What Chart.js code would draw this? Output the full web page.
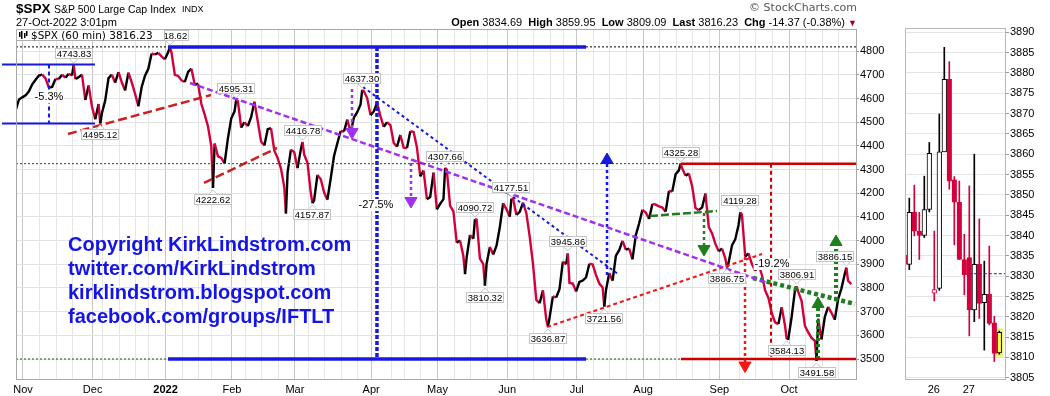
<!DOCTYPE html>
<html>
<head>
<meta charset="utf-8">
<script src="https://cdn.jsdelivr.net/npm/chart.js@4.4.1/dist/chart.umd.min.js"></script>
<style>
body { margin:0; background:#fff; width:1050px; height:396px; overflow:hidden; position:relative; font-family:"Liberation Sans", Arial, sans-serif; }
canvas { position:absolute; top:0; }
#main { left:0; }
#side { left:900px; }
.t { position:absolute; white-space:nowrap; color:#000; }
.copy { position:absolute; left:68px; top:232px; font:bold 20px/24px "Liberation Sans", Arial, sans-serif; color:#1414e6; }
</style>
</head>
<body>
<canvas id="main" width="900" height="396"></canvas>
<canvas id="side" width="150" height="396"></canvas>

<div class="t" style="left:16px;top:2px;font:bold 13.5px/13.5px 'Liberation Sans'">$SPX</div>
<div class="t" style="left:54px;top:3.8px;font:10.5px/10.5px 'Liberation Sans'">S&amp;P 500 Large Cap Index</div>
<div class="t" style="left:182px;top:5px;font:9px/9px 'Liberation Sans'">INDX</div>
<div class="t" style="left:16px;top:16.7px;font:11px/11px 'Liberation Sans'">27-Oct-2022 3:01pm</div>
<div class="t" style="right:193px;top:2.4px;font:11px/11px 'DejaVu Sans';color:#555">© StockCharts.com</div>
<div class="t" style="right:193px;top:16.7px;font:11px/11px 'Liberation Sans'"><b>Open</b> 3834.69&nbsp; <b>High</b> 3859.95&nbsp; <b>Low</b> 3809.09&nbsp; <b>Last</b> 3816.23&nbsp; <b>Chg</b> -14.37 (-0.38%) <span style="color:#a0002a;font-size:9px">▼</span></div>

<div class="copy">Copyright KirkLindstrom.com<br>twitter.com/KirkLindstrom<br>kirklindstrom.blogspot.com<br>facebook.com/groups/IFTLT</div>

<script>
// trading-day index: 0 = 1-Nov-2021, 249 = 27-Oct-2022
const firstDay = -3;
const dailyClose = [
  4551.68, 4596.42, 4605.38,
  // Nov
  4613.67, 4630.65, 4660.57, 4680.06, 4697.53, 4701.70, 4685.25, 4646.71, 4649.27, 4682.85,
  4682.80, 4700.90, 4688.67, 4704.54, 4697.96, 4682.94, 4690.70, 4701.46, 4594.62, 4655.27, 4567.00,
  // Dec
  4513.04, 4577.10, 4538.43, 4591.67, 4686.75, 4701.21, 4667.45, 4712.02, 4668.97, 4634.09, 4709.85,
  4668.67, 4620.64, 4568.02, 4649.23, 4696.56, 4725.79, 4791.19, 4786.35, 4793.06, 4778.73, 4766.18,
  // Jan
  4796.56, 4793.54, 4700.58, 4696.05, 4677.03, 4670.29, 4713.07, 4726.35, 4659.03, 4662.85,
  4577.11, 4532.76, 4482.73, 4397.94, 4410.13, 4356.45, 4349.93, 4326.51, 4431.85, 4515.55,
  // Feb
  4546.54, 4589.38, 4477.44, 4500.53, 4483.87, 4521.54, 4587.18, 4504.08, 4418.64, 4401.67,
  4471.07, 4475.01, 4380.26, 4348.87, 4304.76, 4225.50, 4288.70, 4384.65, 4373.94,
  // Mar
  4306.26, 4386.54, 4363.49, 4328.87, 4201.09, 4170.70, 4277.88, 4259.52, 4204.31, 4173.11, 4262.45, 4357.86,
  4411.67, 4463.12, 4461.18, 4511.61, 4456.24, 4520.16, 4543.06, 4575.52, 4631.60, 4602.45, 4530.41,
  // Apr
  4545.86, 4582.64, 4525.12, 4481.15, 4500.21, 4488.28, 4412.53, 4397.45, 4446.59, 4392.59,
  4391.69, 4462.21, 4459.45, 4393.66, 4271.78, 4296.12, 4175.20, 4183.96, 4287.50, 4131.93,
  // May
  4155.38, 4175.48, 4300.17, 4146.87, 4123.34, 3991.24, 4001.05, 3935.18, 3930.08, 4023.89, 4008.01,
  4088.85, 3923.68, 3900.79, 3901.36, 3973.75, 3941.48, 3978.73, 4057.84, 4158.24, 4132.15,
  // Jun
  4101.23, 4176.82, 4108.54, 4121.43, 4160.68, 4115.77, 4017.82, 3900.86, 3749.63, 3735.48, 3789.99,
  3666.77, 3674.84, 3764.79, 3759.89, 3795.73, 3911.74, 3900.11, 3821.55, 3818.83, 3785.38,
  // Jul
  3825.33, 3831.39, 3845.08, 3902.62, 3899.38, 3854.43, 3818.80, 3801.78, 3790.38, 3863.16,
  3830.85, 3936.69, 3959.90, 3998.95, 3961.63, 3966.84, 3921.05, 4023.61, 4072.43, 4130.29,
  // Aug
  4118.63, 4091.19, 4155.17, 4151.94, 4145.19, 4140.06, 4122.47, 4210.24, 4207.27, 4280.15, 4297.14, 4305.20,
  4274.04, 4283.74, 4228.48, 4137.99, 4128.73, 4140.77, 4199.12, 4057.66, 4030.61, 3986.16, 3955.00,
  // Sep
  3966.85, 3924.26, 3908.19, 3979.87, 4006.18, 4067.36, 4110.41, 3932.69, 3946.01, 3901.35, 3873.33,
  3899.89, 3855.93, 3789.93, 3757.99, 3693.23, 3655.04, 3647.29, 3719.04, 3640.47, 3585.62,
  // Oct
  3678.43, 3790.93, 3783.28, 3744.52, 3639.66, 3612.39, 3588.84, 3577.03, 3669.91, 3583.07,
  3677.95, 3719.98, 3695.16, 3665.78, 3752.75, 3797.34, 3859.11, 3830.60, 3816.23
];

// intraday turning points
const swingDays = [15, 23, 44, 57, 64, 79, 84, 87, 102, 127, 133, 136, 139, 147, 158, 164, 175, 198, 212, 216, 230, 233, 239, 248];
const swingValues = [4743.83, 4495.12, 4818.62, 4222.62, 4595.31, 4114.65, 4416.78, 4157.87, 4637.30, 4307.66, 3858.87, 4090.72,
  3810.32, 4177.51, 3636.87, 3945.86, 3721.56, 4325.28, 3886.75, 4119.28, 3584.13, 3806.91, 3491.58, 3886.15];

// price tags
const tagDays = [15, 23, 44, 57, 64, 84, 87, 102, 127, 136, 139, 147, 158, 164, 175, 198, 212, 216, 230, 233, 239, 248];
const tagValues = [4743.83, 4495.12, 4818.62, 4222.62, 4595.31, 4416.78, 4157.87, 4637.30, 4307.66, 4090.72, 3810.32,
  4177.51, 3636.87, 3945.86, 3721.56, 4325.28, 3886.75, 4119.28, 3584.13, 3806.91, 3491.58, 3886.15];
const tagAbove = [1, 0, 1, 0, 1, 1, 0, 1, 1, 1, 0, 1, 0, 1, 0, 1, 0, 1, 0, 1, 0, 1];

const monthTickDays = [0, 21, 43, 63, 82, 105, 125, 146, 167, 187, 210, 231];
const monthTickLabels = ['Nov', 'Dec', '2022', 'Feb', 'Mar', 'Apr', 'May', 'Jun', 'Jul', 'Aug', 'Sep', 'Oct'];
const weekTickDays = [5, 10, 15, 19, 24, 29, 34, 38, 48, 53, 57, 62, 67, 72, 77, 81, 86, 91, 96, 101, 106, 111, 115, 120,
  130, 135, 140, 145, 149, 154, 159, 163, 168, 172, 177, 182, 192, 197, 202, 207, 212, 216, 221, 226, 236, 241, 246];
const priceTicks = [3500, 3600, 3700, 3800, 3900, 4000, 4100, 4200, 4300, 4400, 4500, 4600, 4700, 4800];

// drawn studies, in (trading day, price)
const highLevel = 4818.62;
const lowLevel = 3500;
const augLevel = 4325.28;
const blueSpan = [43.73, 169.78];
const redLevelStart = 198.43;
const novBand = [4743.83, 4495.12];
const novBandSpan = [-6.33, 21.71];
const novBandDay = 7.84;
const dropDay = 106.75;
const redTargetDay = 225.57;
const novRedTrend = [[13.57, 4450.6], [56.7, 4615.4]];
const janRedTrend = [[54.58, 4243.6], [76.6, 4391.5]];
const purpleTrend = [[50.36, 4666.1], [224.67, 3821.1]];
const blueTrend = [[102.53, 4649.2], [179.43, 3859.1]];
const redRiseTrend = [[158.02, 3635.2], [222.86, 3943.6]];
const greenNeck = [[189.08, 4104.2], [209.29, 4125.3]];
const greenTrend = [[220.14, 3842.2], [250.9, 3732.4]];

const arrowDays = [176.12, 99.22, 117.01, 205.37, 217.73, 239.75, 245.17];
const arrowFrom = [3854.9, 4640.7, 4328.1, 4116.8, 3930.9, 3500, 3749.3];
const arrowTo = [4328.1, 4467.5, 4180.2, 3981.6, 3478.9, 3719.7, 3969.0];
const arrowHead = [4340.8, 4459.1, 4167.5, 3964.7, 3472.5, 3732.4, 3994.3];
const arrowUp = [1, 0, 0, 0, 0, 1, 1];

const noteDays = [7.84, 106.45, 225.87];
const noteValues = [4606.9, 4150.6, 3901.4];
const noteTexts = ['-5.3%', '-27.5%', '-19.2%'];

// intraday 60-min candles, 26-27 Oct
const candleSlot = [0, 1, 2, 3, 4, 5, 6, 7, 8, 9, 10, 11, 12, 13, 14, 15, 16, 17, 18, 19];
const candleOpen = [3835.2, 3832.9, 3845.7, 3841.1, 3840.0, 3846.4, 3825.8, 3827.0, 3860.6, 3878.4,
  3853.7, 3848.2, 3834.1, 3834.6, 3821.7, 3832.9, 3823.5, 3825.5, 3818.5, 3811.1];
const candleHigh = [3835.6, 3849.2, 3852.4, 3845.7, 3854.6, 3862.9, 3841.1, 3869.9, 3886.3, 3882.8,
  3854.5, 3853.4, 3840.3, 3852.2, 3860.0, 3844.1, 3833.7, 3837.4, 3820.1, 3816.5];
const candleLow = [3832.5, 3831.6, 3839.9, 3834.1, 3839.5, 3845.8, 3823.9, 3826.5, 3860.6, 3851.4,
  3837.7, 3834.1, 3825.4, 3815.3, 3818.8, 3819.6, 3811.8, 3818.0, 3809.0, 3810.8];
const candleClose = [3832.9, 3845.7, 3841.1, 3840.0, 3846.4, 3860.2, 3826.7, 3860.6, 3878.4, 3853.4,
  3848.2, 3834.1, 3830.3, 3821.7, 3832.9, 3823.3, 3825.5, 3818.4, 3811.0, 3816.2];
const prevClose = 3830.6;
const sideDayTicks = [5.9, 12.9];
const sideDayLabels = ['26', '27'];
const sideTicks = [3805, 3810, 3815, 3820, 3825, 3830, 3835, 3840, 3845, 3850, 3855, 3860, 3865, 3870, 3875, 3880, 3885, 3890];

const RED = '#d2003c';
const BLUE = '#1818e0';
const PURPLE = '#a030f0';
const GREEN = '#1f7f1f';
const BRIGHTRED = '#f01818';
const LABELFONT = '"Liberation Sans", Arial, sans-serif';

const pricePoints = [];
dailyClose.forEach((c, i) => {
    const d = firstDay + i;
    const s = swingDays.indexOf(d);
    if (s >= 0) pricePoints.push({ x: d + 0.3, y: swingValues[s] });
    pricePoints.push({ x: d + 0.8, y: c });
});

function study(points, color, width, dash) {
    return {
        data: points.map(p => (p ? { x: p[0], y: p[1] } : { x: 0, y: null })),
        borderColor: color,
        borderWidth: width,
        borderDash: dash || [],
        pointRadius: 0,
        spanGaps: false,
        clip: false,
        order: 5
    };
}

const xMin = -2.1, xMax = 251.5;
const datasets = [
    {
        data: pricePoints,
        borderColor: '#000',
        borderWidth: 2.4,
        pointRadius: 0,
        segment: { borderColor: c => (c.p1.parsed.y < c.p0.parsed.y ? RED : '#000') },
        order: 20
    },
    study([[xMin, highLevel], [blueSpan[0], highLevel], null, [blueSpan[1], highLevel], [xMax, highLevel]], '#000', 1, [2, 2]),
    study([[xMin, lowLevel], [blueSpan[0], lowLevel], null, [blueSpan[1], lowLevel], [redLevelStart, lowLevel]], '#006400', 1, [2, 2]),
    study([[xMin, augLevel], [redLevelStart, augLevel]], '#006400', 1, [2, 2]),
    study([[blueSpan[0], highLevel], [blueSpan[1], highLevel]], BLUE, 3.5),
    study([[blueSpan[0], lowLevel], [blueSpan[1], lowLevel]], BLUE, 3.5),
    study([[redLevelStart, lowLevel], [xMax, lowLevel]], '#cc0000', 2.5),
    study([[redLevelStart, augLevel], [xMax, augLevel]], '#cc0000', 2.5),
    study([[dropDay, highLevel], [dropDay, lowLevel]], BLUE, 3.5, [4, 2]),
    study([[redTargetDay, augLevel], [redTargetDay, lowLevel]], '#cc0000', 2, [4, 3]),
    study([[novBandSpan[0], novBand[0]], [novBandSpan[1], novBand[0]]], BLUE, 2),
    study([[novBandSpan[0], novBand[1]], [novBandSpan[1], novBand[1]]], BLUE, 2),
    study([[novBandDay, novBand[0]], [novBandDay, novBand[1]]], BLUE, 2, [4, 3]),
    study(novRedTrend, '#cc2020', 2.5, [9, 4]),
    study(janRedTrend, '#cc2020', 2.5, [9, 4]),
    study(purpleTrend, PURPLE, 2.5, [6, 3]),
    study(blueTrend, BLUE, 2, [3, 3]),
    study(redRiseTrend, BRIGHTRED, 2, [4, 3]),
    study(greenNeck, GREEN, 2.5, [8, 3]),
    study(greenTrend, GREEN, 4.5, [4, 3])
];

const arrowColors = [BLUE, PURPLE, PURPLE, GREEN, BRIGHTRED, GREEN, GREEN];
const arrowWidths = [2.5, 2.5, 2.5, 2.5, 2.5, 4, 4];
arrowDays.forEach((d, i) => {
    datasets.push(study([[d, arrowFrom[i]], [d, arrowTo[i]]], arrowColors[i], arrowWidths[i], [3, 3]));
});
datasets.push({
    data: arrowDays.map((d, i) => ({ x: d, y: arrowHead[i] })),
    showLine: false,
    pointStyle: 'triangle',
    pointRadius: 7,
    pointRotation: arrowUp.map(u => (u ? 0 : 180)),
    pointBackgroundColor: arrowColors,
    pointBorderColor: arrowColors,
    pointBorderWidth: 1,
    clip: false,
    order: 1
});

const mainOverlay = {
    id: 'mainOverlay',
    afterDatasetsDraw(chart) {
        const { ctx, chartArea: a, scales: { x, y } } = chart;
        ctx.save();
        ctx.strokeStyle = '#a8a8a8';
        ctx.lineWidth = 1;
        ctx.strokeRect(a.left + 0.5, a.top + 0.5, a.width - 1, a.height - 1);

        // % notes
        ctx.font = '11px ' + LABELFONT;
        ctx.textAlign = 'center';
        ctx.textBaseline = 'middle';
        noteTexts.forEach((t, i) => {
            const px = x.getPixelForValue(noteDays[i]);
            const py = y.getPixelForValue(noteValues[i]);
            const w = ctx.measureText(t).width + 2;
            ctx.fillStyle = '#fff';
            ctx.fillRect(px - w / 2, py - 6, w, 12);
            ctx.fillStyle = '#000';
            ctx.fillText(t, px, py);
        });

        // price tags
        ctx.font = '9.5px ' + LABELFONT;
        tagDays.forEach((d, i) => {
            const px = x.getPixelForValue(d + 0.3);
            const py = y.getPixelForValue(tagValues[i]);
            const t = tagValues[i].toFixed(2);
            const w = Math.round(ctx.measureText(t).width + 4);
            const h = 11;
            let bx = Math.round(px - w / 2);
            bx = Math.min(bx, a.right - w - 3);
            const by = tagAbove[i] ? Math.round(py - 6 - h) : Math.round(py + 6);
            const edge = tagAbove[i] ? by + h : by;
            const dir = tagAbove[i] ? 1 : -1;
            ctx.fillStyle = '#fff';
            ctx.strokeStyle = '#c4c4c4';
            ctx.fillRect(bx, by, w, h);
            ctx.strokeRect(bx + 0.5, by + 0.5, w - 1, h - 1);
            ctx.beginPath();
            ctx.moveTo(px - 4, edge);
            ctx.lineTo(px, edge + dir * 4);
            ctx.lineTo(px + 4, edge);
            ctx.fill();
            ctx.stroke();
            ctx.fillStyle = '#000';
            ctx.fillText(t, bx + w / 2, by + h / 2 + 0.5);
        });

        // legend box
        ctx.fillStyle = '#fff';
        ctx.strokeStyle = '#b0b0b0';
        ctx.fillRect(a.left, a.top, 148, 11);
        ctx.strokeRect(a.left + 0.5, a.top + 0.5, 148, 11);
        ctx.fillStyle = '#000';
        [[19, 32, 37], [21, 31, 39], [24, 33, 38], [26, 31, 36]].forEach(([lx, t, b]) => ctx.fillRect(lx, t, 1.5, b - t));
        ctx.font = '10.5px "DejaVu Sans", sans-serif';
        ctx.textAlign = 'left';
        ctx.textBaseline = 'alphabetic';
        ctx.fillText('$SPX (60 min) 3816.23', 31, 38.5);
        ctx.restore();
    }
};

const xTicks = monthTickDays.concat(weekTickDays.filter(w => monthTickDays.every(m => Math.abs(m - w) > 2)));

new Chart(document.getElementById('main'), {
    type: 'line',
    data: { datasets: datasets },
    options: {
        animation: false,
        responsive: false,
        devicePixelRatio: 1,
        events: [],
        layout: { padding: { left: 16, top: 29, right: 0, bottom: 0 } },
        plugins: { legend: { display: false }, tooltip: { enabled: false } },
        scales: {
            x: {
                type: 'linear',
                min: xMin,
                max: xMax,
                afterFit: s => { s.height = 16; },
                afterBuildTicks: s => { s.ticks = xTicks.map(v => ({ value: v })); },
                grid: {
                    color: c => (monthTickDays.includes(c.tick.value) ? '#c6c6c6' : '#e6e6e6'),
                    drawTicks: false
                },
                border: { display: false },
                ticks: {
                    autoSkip: false,
                    maxRotation: 0,
                    padding: 3,
                    color: '#000',
                    font: c => ({ family: LABELFONT, size: 11, weight: c.tick && c.tick.value === 43 ? 'bold' : 'normal' }),
                    callback: v => {
                        const m = monthTickDays.indexOf(v);
                        return m >= 0 ? monthTickLabels[m] : '';
                    }
                }
            },
            y: {
                type: 'linear',
                position: 'right',
                min: 3411.3,
                max: 4894.2,
                afterFit: s => { s.width = 43; },
                afterBuildTicks: s => { s.ticks = priceTicks.map(v => ({ value: v })); },
                grid: { color: '#e2e2e2', tickColor: '#999', tickLength: 2 },
                border: { display: false },
                ticks: { padding: 1, color: '#000', font: { family: LABELFONT, size: 11 }, callback: v => String(v) }
            }
        }
    },
    plugins: [mainOverlay]
});

// side panel: 60-min candles
const candleRed = candleClose.map((c, i) => (i === 0 ? true : c < candleClose[i - 1]));
const candleFilled = candleClose.map((c, i) => c < candleOpen[i]);
const lastSlot = candleSlot.length - 1;
const edgeColors = candleRed.map(r => (r ? RED : '#000'));
const fillColors = candleSlot.map(i => (i === lastSlot ? '#ffff44' : candleFilled[i] ? (candleRed[i] ? RED : '#000') : '#fff'));

const sideFrame = {
    id: 'sideFrame',
    afterDatasetsDraw(chart) {
        const { ctx, chartArea: a } = chart;
        ctx.save();
        ctx.strokeStyle = '#b8b8b8';
        ctx.lineWidth = 1;
        ctx.strokeRect(a.left + 0.5, a.top + 0.5, a.width - 1, a.height - 1);
        ctx.restore();
    }
};

new Chart(document.getElementById('side'), {
    type: 'bar',
    data: {
        datasets: [
            {
                data: [{ x: candleSlot[lastSlot], y: [candleLow[lastSlot] - 0.6, candleHigh[lastSlot] + 0.6] }],
                backgroundColor: '#f4f47a',
                barThickness: 7,
                grouped: false,
                order: 3
            },
            {
                data: candleSlot.map(i => ({ x: i, y: [candleLow[i], candleHigh[i]] })),
                backgroundColor: edgeColors,
                barThickness: 1,
                grouped: false,
                order: 2
            },
            {
                data: candleSlot.map(i => ({ x: i, y: [candleOpen[i], candleClose[i]] })),
                backgroundColor: fillColors,
                borderColor: edgeColors,
                borderWidth: 1,
                borderSkipped: false,
                barThickness: 4.6,
                grouped: false,
                order: 1
            },
            {
                type: 'line',
                data: [{ x: sideDayTicks[1], y: prevClose }, { x: 20.34, y: prevClose }],
                borderColor: BLUE,
                borderWidth: 1,
                borderDash: [3, 2],
                pointRadius: 0,
                order: 0
            }
        ]
    },
    options: {
        animation: false,
        responsive: false,
        devicePixelRatio: 1,
        events: [],
        layout: { padding: { left: 5, top: 28, right: 0, bottom: 0 } },
        plugins: { legend: { display: false }, tooltip: { enabled: false } },
        scales: {
            x: {
                type: 'linear',
                offset: false,
                min: 0.14,
                max: 20.34,
                afterFit: s => { s.height = 16; },
                afterBuildTicks: s => { s.ticks = sideDayTicks.map(v => ({ value: v })); },
                grid: { display: false, drawTicks: false },
                border: { display: false },
                ticks: {
                    padding: 3,
                    color: '#000',
                    font: { family: LABELFONT, size: 11 },
                    callback: v => sideDayLabels[sideDayTicks.indexOf(v)]
                }
            },
            y: {
                type: 'linear',
                position: 'right',
                min: 3804.45,
                max: 3891.06,
                afterFit: s => { s.width = 44; },
                afterBuildTicks: s => { s.ticks = sideTicks.map(v => ({ value: v })); },
                grid: { color: '#e4e4e4', tickColor: '#999', tickLength: 3 },
                border: { display: false },
                ticks: { padding: 1, color: '#000', font: { family: LABELFONT, size: 11 }, callback: v => String(v) }
            }
        }
    },
    plugins: [sideFrame]
});
</script>
</body>
</html>
